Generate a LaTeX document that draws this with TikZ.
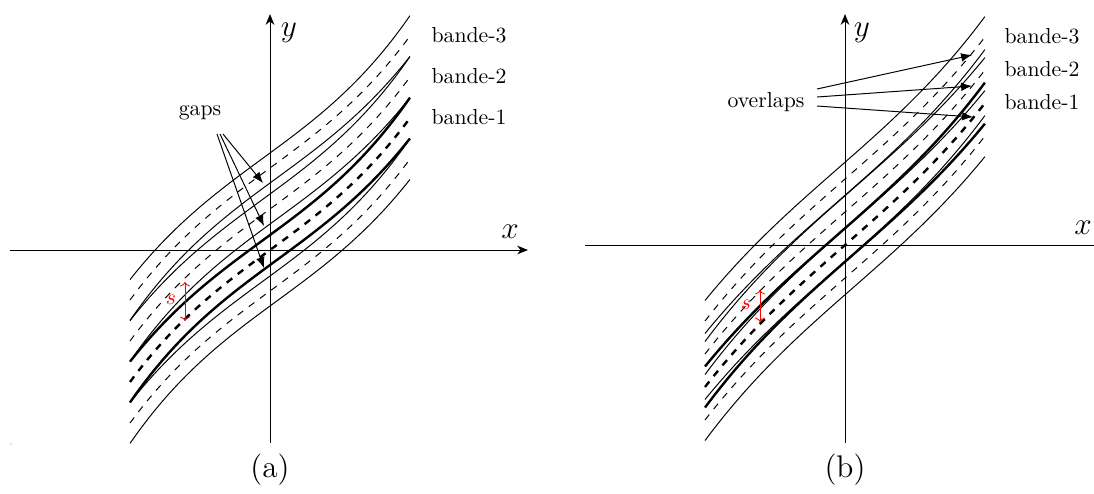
\documentclass[tikz,border=0pt]{standalone}
\usetikzlibrary{arrows.meta}
\tikzset{
  axis/.style={line width=0.45pt,-{Stealth[length=5pt,width=4pt]}},
  bthin/.style={line width=0.45pt},
  bthick/.style={line width=1.1pt},
  cthin/.style={line width=0.45pt,dash pattern=on 3.2pt off 3.2pt},
  cthick/.style={line width=1.1pt,dash pattern=on 3.2pt off 3.2pt},
  ptr/.style={line width=0.45pt,-{Latex[length=5pt,width=4pt]}},
  sarrow/.style={red,line width=0.4pt,{To[length=2pt,width=4.5pt]}-{To[length=2pt,width=4.5pt]}},
  lbl/.style={inner sep=0pt,font=\normalsize},
}
\newcommand\bandcurve[3]{%
  \draw[#1,domain=-1.4:1.4,samples=90,smooth,variable=\u]
    plot ({\OX+100*\u},{\OY-(\PA*\u+\PB*\u*\u*\u+#2*\PS+#3*\PD*sqrt(1+((\PA+3*\PB*\u*\u)/100)^2))});}
\newcommand\bandgroup[2]{% #1 solid style, #2 centre style ; uses \K
  \bandcurve{#1}{\K}{1}\bandcurve{#1}{\K}{-1}\bandcurve{#2}{\K}{0}}
\begin{document}
\begin{tikzpicture}[x=0.46pt,y=-0.46pt]
\useasboundingbox (0,0) rectangle (1094,493);
% ---------------- panel (a)
\begin{scope}
\def\OX{270}\def\OY{250}\def\PA{73.5}\def\PB{10.61}\def\PS{41}\def\PD{12.09}
\foreach \K in {-1,1,2}{\bandgroup{bthin}{cthin}}
\def\K{0}\bandgroup{bthick}{cthick}
\end{scope}
\coordinate (xa0) at (10,250); \coordinate (xa1) at (528,250);
\coordinate (ya0) at (270,443); \coordinate (ya1) at (270,14);
\draw[axis] (xa0) -- (xa1);
\draw[axis] (ya0) -- (ya1);
\node[lbl,font=\Large] (xla) at (510,232) {$x$};
\node[lbl,font=\Large] (yla) at (289,33) {$y$};
\node[lbl] (b3a) at (469,35) {bande-3};
\node[lbl] (b2a) at (469,76) {bande-2};
\node[lbl] (b1a) at (469,117) {bande-1};
\node[lbl] (gaps) at (200,113) {gaps};
\coordinate (g1) at (263,183); \coordinate (g2) at (264,226); \coordinate (g3) at (264,268);
\coordinate (gs1) at (217,134); \coordinate (gs2) at (220,134); \coordinate (gs3) at (223,134);
\draw[ptr] (gs3) -- (g1);
\draw[ptr] (gs2) -- (g2);
\draw[ptr] (gs1) -- (g3);
\coordinate (sa0) at (185,321); \coordinate (sa1) at (185,282);
\draw[sarrow] (sa0) -- (sa1);
\node[lbl,red] (sla) at (171,300) {$s$};
\node[lbl,font=\Large] (capa) at (270,470) {(a)};
\fill[gray] (11,444) circle (0.6);
% ---------------- panel (b)
\begin{scope}
\def\OX{845}\def\OY{245}\def\PA{87.8}\def\PB{6.956}\def\PS{33}\def\PD{12.59}
\foreach \K in {-1,1,2}{\bandgroup{bthin}{cthin}}
\def\K{0}\bandgroup{bthick}{cthick}
\end{scope}
\coordinate (xb0) at (585,245); \coordinate (xb1) at (1094,245);
\coordinate (yb0) at (845,443); \coordinate (yb1) at (845,14);
\draw[line width=0.45pt] (xb0) -- (xb1);
\draw[axis] (yb0) -- (yb1);
\node[lbl,font=\Large] (xlb) at (1083,228) {$x$};
\node[lbl,font=\Large] (ylb) at (862,33) {$y$};
\node[lbl] (b3b) at (1042,36) {bande-3};
\node[lbl] (b2b) at (1042,69) {bande-2};
\node[lbl] (b1b) at (1042,102) {bande-1};
\node[lbl] (ovl) at (766,102) {overlaps};
\coordinate (o1) at (972,55); \coordinate (o2) at (972,86); \coordinate (o3) at (973,117);
\coordinate (os1) at (817,89); \coordinate (os2) at (817,97); \coordinate (os3) at (817,106);
\draw[ptr] (os1) -- (o1);
\draw[ptr] (os2) -- (o2);
\draw[ptr] (os3) -- (o3);
\coordinate (sb0) at (760,322); \coordinate (sb1) at (760,290);
\draw[sarrow] (sb0) -- (sb1);
\node[lbl,red] (slb) at (746,305) {$s$};
\node[lbl,font=\Large] (capb) at (845,470) {(b)};
\end{tikzpicture}
\end{document}
